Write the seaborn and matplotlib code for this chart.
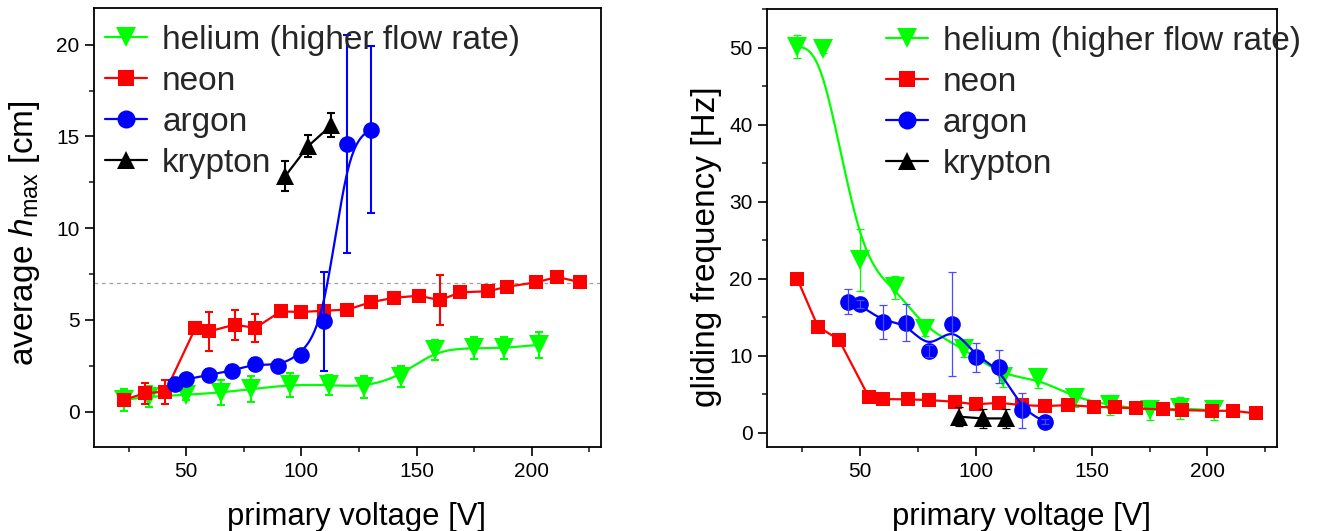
import numpy as np
import pandas as pd
import matplotlib
matplotlib.use("Agg")
import matplotlib.pyplot as plt
from matplotlib.lines import Line2D
from matplotlib.ticker import MultipleLocator
import seaborn as sns

# ---------------------------------------------------------------- data
helium_v = [23, 34, 50, 65, 78, 95, 112, 127, 143, 158, 175, 188, 203]
helium_h = [0.64, 0.82, 0.91, 1.04, 1.22, 1.46, 1.46, 1.33, 1.91, 3.37, 3.46, 3.46, 3.64]
helium_h_err = [0.6, 0.55, 0.3, 0.7, 0.7, 0.64, 0.55, 0.6, 0.55, 0.55, 0.6, 0.6, 0.7]
helium_f = [50.1, 49.8, 22.4, 18.9, 13.5, 10.9, 7.3, 7.05, 4.5, 3.6, 2.9, 3.2, 2.9]
helium_f_err = [1.5, 0.5, 4.0, 1.5, 1.0, 1.1, 1.3, 1.3, 1.1, 1.3, 1.3, 1.4, 1.3]

neon_v = [23, 32, 41, 54, 60, 71, 80, 91, 100, 110, 120, 130, 140, 151, 160,
          169, 181, 189, 202, 211, 221]
neon_h = [0.64, 1.0, 1.09, 4.56, 4.37, 4.74, 4.56, 5.46, 5.43, 5.5, 5.56, 5.96,
          6.2, 6.32, 6.07, 6.5, 6.56, 6.8, 7.05, 7.34, 7.05]
neon_h_err = [0.3, 0.57, 0.65, 0.3, 1.07, 0.82, 0.75, 0.3, 0.3, 0.3, 0.3, 0.3,
              0.3, 0.3, 1.36, 0.3, 0.3, 0.3, 0.3, 0.3, 0.3]
neon_f = [20.0, 13.75, 12.1, 4.59, 4.37, 4.33, 4.24, 4.02, 3.68, 3.89, 3.59,
          3.46, 3.59, 3.37, 3.29, 3.16, 3.03, 2.94, 2.85, 2.85, 2.51]
neon_f_err = [0.3] * 21

argon_v = [45, 50, 60, 70, 80, 90, 100, 110, 120, 130]
argon_h = [1.51, 1.77, 2.0, 2.24, 2.6, 2.5, 3.1, 4.92, 14.57, 15.36]
argon_h_err = [0.3, 0.3, 0.3, 0.3, 0.3, 0.3, 0.3, 2.7, 5.95, 4.55]
argon_f = [16.99, 16.69, 14.4, 14.27, 10.6, 14.1, 9.78, 8.56, 2.94, 1.43]
argon_f_err = [1.62, 0.5, 2.23, 2.38, 0.8, 6.74, 1.84, 2.16, 2.27, 0.3]

krypton_v = [93, 103, 113]
krypton_h = [12.84, 14.48, 15.61]
krypton_h_err = [0.8, 0.6, 0.65]
krypton_f = [2.08, 1.86, 1.86]
krypton_f_err = [1.2, 1.2, 1.2]

series_names = ["helium (higher flow rate)", "neon", "argon", "krypton"]
series_colors = ["#00ff00", "#ff0000", "#0000ff", "#000000"]
series_markers = ["v", "s", "o", "^"]
marker_sizes = [14, 10, 12, 12.5]


def bspline(xs, ys, per_seg=40):
    """Uniform cubic B-spline using the points as control points (ends pinned)."""
    p = np.column_stack([xs, ys]).astype(float)
    p = np.vstack([2 * p[0] - p[1], p, 2 * p[-1] - p[-2]])
    t = np.linspace(0, 1, per_seg, endpoint=False)[:, None]
    b0 = (1 - t) ** 3 / 6
    b1 = (3 * t ** 3 - 6 * t ** 2 + 4) / 6
    b2 = (-3 * t ** 3 + 3 * t ** 2 + 3 * t + 1) / 6
    b3 = t ** 3 / 6
    segs = [b0 * p[i] + b1 * p[i + 1] + b2 * p[i + 2] + b3 * p[i + 3]
            for i in range(len(p) - 3)]
    segs.append(p[-2][None, :])
    c = np.vstack(segs)
    return c[:, 0], c[:, 1]


# ---------------------------------------------------------------- style
sns.set_theme(style="ticks")
plt.rcParams["font.family"] = ["Liberation Sans", "DejaVu Sans"]
plt.rcParams["mathtext.fontset"] = "custom"
plt.rcParams["mathtext.rm"] = "Liberation Sans"
plt.rcParams["mathtext.it"] = "Liberation Sans:italic"
plt.rcParams["axes.linewidth"] = 1.3
plt.rcParams["axes.edgecolor"] = "black"

fig = plt.figure(figsize=(13.36, 5.31), dpi=100)
ax1 = fig.add_axes([94 / 1336, 1 - 447 / 531, 507 / 1336, 439 / 531])
ax2 = fig.add_axes([767 / 1336, 1 - 447 / 531, 510 / 1336, 438 / 531])


def draw_series(ax, v, y, err, idx, smooth, err_lw, err_color=None, z=2):
    color = series_colors[idx]
    if smooth:
        cx, cy = bspline(v, y)
    else:
        cx, cy = np.asarray(v, float), np.asarray(y, float)
    line_df = pd.DataFrame({"x": cx, "y": cy})
    sns.lineplot(data=line_df, x="x", y="y", ax=ax, color=color, lw=1.6,
                 sort=False, estimator=None, zorder=z)
    ax.errorbar(v, y, yerr=err, fmt="none", ecolor=err_color or color,
                elinewidth=err_lw, capsize=3.2, capthick=err_lw, zorder=z + 0.5)
    pts = pd.DataFrame({"x": v, "y": y})
    sns.lineplot(data=pts, x="x", y="y", ax=ax, color=color, linestyle="",
                 marker=series_markers[idx], markersize=marker_sizes[idx],
                 markeredgewidth=0, markeredgecolor=color,
                 sort=False, estimator=None, zorder=z + 0.2)


# left panel: average h_max
draw_series(ax1, helium_v, helium_h, helium_h_err, 0, True, 1.5, z=2)
draw_series(ax1, neon_v, neon_h, neon_h_err, 1, False, 1.5, z=3)
draw_series(ax1, argon_v, argon_h, argon_h_err, 2, True, 1.5, z=4)
draw_series(ax1, krypton_v, krypton_h, krypton_h_err, 3, False, 1.5, z=5)
ax1.axhline(7, color="#a0a0a0", lw=0.9, ls=(0, (3, 3)), zorder=1)

# right panel: gliding frequency
draw_series(ax2, helium_v, helium_f, helium_f_err, 0, True, 0.9, z=2)
draw_series(ax2, neon_v, neon_f, neon_f_err, 1, False, 0.9, z=3)
draw_series(ax2, argon_v, argon_f, argon_f_err, 2, True, 0.9,
            err_color="#4a4aff", z=4)
draw_series(ax2, krypton_v, krypton_f, krypton_f_err, 3, False, 0.9, z=5)

for ax in (ax1, ax2):
    ax.set_xlim(10, 230)
    ax.xaxis.set_major_locator(MultipleLocator(50))
    ax.xaxis.set_minor_locator(MultipleLocator(25))
    ax.tick_params(which="major", direction="out", length=6.5, width=1.2,
                   labelsize=15, pad=4, colors="black",
                   top=False, right=False)
    ax.tick_params(which="minor", direction="out", length=3.6, width=1.2,
                   top=False, right=False)
    for s in ax.spines.values():
        s.set_visible(True)
        s.set_color("black")
        s.set_linewidth(1.3)
    ax.set_xlabel("primary voltage [V]", fontsize=22.3, color="black")

ax1.set_ylim(-1.93, 22.0)
ax1.yaxis.set_major_locator(MultipleLocator(5))
ax1.yaxis.set_minor_locator(MultipleLocator(2.5))
ax1.set_ylabel(r"average $h_{\rm max}$ [cm]", fontsize=24, color="black")

ax2.set_ylim(-1.85, 55.0)
ax2.yaxis.set_major_locator(MultipleLocator(10))
ax2.yaxis.set_minor_locator(MultipleLocator(5))
ax2.set_ylabel("gliding frequency [Hz]", fontsize=24, color="black")

ax1.xaxis.set_label_coords(0.517, -0.125)
ax2.xaxis.set_label_coords(0.5, -0.125)
ax1.yaxis.set_label_coords(-0.103, 0.487)
ax2.yaxis.set_label_coords(-0.088, 0.458)

handles = [Line2D([], [], color=series_colors[i], lw=1.6,
                  marker=series_markers[i], markersize=marker_sizes[i] + 1,
                  markeredgewidth=0) for i in range(4)]
for ax, anchor in ((ax1, (0.022, 0.962)), (ax2, (0.233, 0.962))):
    ax.legend(handles, series_names, loc="upper left", bbox_to_anchor=anchor,
              frameon=False, fontsize=24, handlelength=1.26,
              handletextpad=0.45, labelspacing=0.3, borderpad=0,
              borderaxespad=0, numpoints=1)

fig.savefig("out.png", dpi=100)
